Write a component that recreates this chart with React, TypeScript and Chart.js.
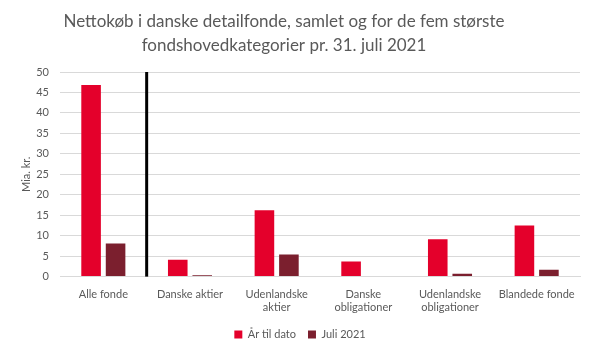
import React, { useEffect, useRef } from "react";
import { Chart, registerables } from "chart.js";

Chart.register(...registerables);

const categories: (string | string[])[] = [
  "Alle fonde",
  "Danske aktier",
  ["Udenlandske", "aktier"],
  ["Danske", "obligationer"],
  ["Udenlandske", "obligationer"],
  "Blandede fonde",
];
const aarTilDato = [46.8, 4.1, 16.2, 3.7, 9.1, 12.5];
const juli2021 = [8.1, 0.3, 5.4, 0.0, 0.7, 1.7];
const seriesNames = ["År til dato", "Juli 2021"];
const titleLines = [
  "Nettokøb i danske detailfonde, samlet og for de fem største",
  "fondshovedkategorier pr. 31. juli 2021",
];

const FONT = "Lato, 'Open Sans', sans-serif";
const GREY = "#595959";

const separatorPlugin = {
  id: "separator",
  afterDatasetsDraw(chart: any) {
    const x = chart.scales.x;
    const y = chart.scales.y;
    const px = (x.getPixelForValue(0) + x.getPixelForValue(1)) / 2;
    const ctx = chart.ctx;
    ctx.save();
    ctx.strokeStyle = "#000000";
    ctx.lineWidth = 3;
    ctx.beginPath();
    ctx.moveTo(px, y.getPixelForValue(50));
    ctx.lineTo(px, y.getPixelForValue(0));
    ctx.stroke();
    ctx.restore();
  },
};

const titlePlugin = {
  id: "offsetTitle",
  afterDraw(chart: any) {
    const ctx = chart.ctx;
    ctx.save();
    ctx.fillStyle = GREY;
    ctx.font = `17px ${FONT}`;
    ctx.textAlign = "center";
    ctx.textBaseline = "middle";
    titleLines.forEach((t, i) => ctx.fillText(t, 284, 22 + i * 24));
    ctx.restore();
  },
};

export default function App() {
  const ref = useRef<HTMLCanvasElement>(null);
  useEffect(() => {
    document.body.style.margin = "0";
    const chart = new Chart(ref.current!, {
      type: "bar",
      data: {
        labels: categories,
        datasets: [
          {
            label: seriesNames[0],
            data: aarTilDato,
            backgroundColor: "#E4002B",
            categoryPercentage: 0.565,
            barPercentage: 0.8,
          },
          {
            label: seriesNames[1],
            data: juli2021,
            backgroundColor: "#7B1F2E",
            categoryPercentage: 0.565,
            barPercentage: 0.8,
          },
        ],
      },
      options: {
        animation: false,
        responsive: false,
        layout: { padding: { left: 20, right: 15, top: 72, bottom: 2 } },
        plugins: {
          title: { display: false },
          legend: {
            position: "bottom",
            labels: {
              color: GREY,
              font: { family: FONT, size: 11 },
              boxWidth: 8,
              boxHeight: 8,
              padding: 12,
            },
          },
          tooltip: { enabled: false },
        },
        scales: {
          x: {
            grid: { display: false },
            border: { color: "#d9d9d9" },
            ticks: {
              color: GREY,
              font: { family: FONT, size: 11 },
              maxRotation: 0,
              autoSkip: false,
            },
          },
          y: {
            min: 0,
            max: 50,
            afterFit: (s: any) => {
              s.width = 40;
            },
            ticks: {
              stepSize: 5,
              color: GREY,
              font: { family: FONT, size: 11 },
              padding: 11,
            },
            grid: { color: "#d9d9d9", drawTicks: false },
            border: { display: false },
            title: {
              display: true,
              text: "Mia. kr.",
              color: GREY,
              font: { family: FONT, size: 11 },
              padding: { top: 0, bottom: 0 },
            },
          },
        },
      },
      plugins: [separatorPlugin, titlePlugin],
    });
    return () => chart.destroy();
  }, []);
  return <canvas ref={ref} width={595} height={352} style={{ display: "block" }} />;
}
